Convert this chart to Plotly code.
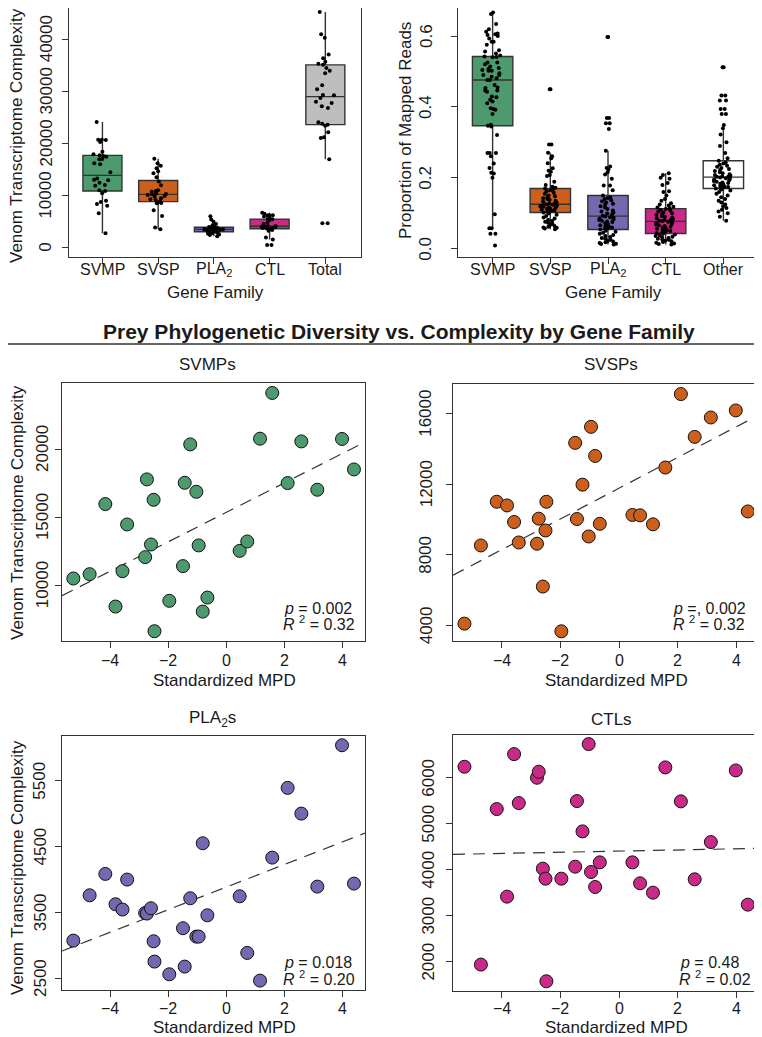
import plotly.graph_objects as go

W, H = 762, 1037
OFF = 8  # the page body adds an 8px margin, so the figure is laid out inside it
FW, FH = W - OFF, H - OFF
FONT = "Liberation Sans, Arial, Helvetica, sans-serif"

# ---- top-left: venom transcriptome complexity per gene family ----
tl_categories = ["SVMP", "SVSP", "PLA<sub>2</sub>", "CTL", "Total"]
tl_yticks = [0, 10000, 20000, 30000, 40000]
tl_svmp = [24130, 20740, 20670, 20740, 20290, 18430, 17920, 17600, 17470, 17730,
           16960, 16000, 17020, 16190, 14460, 13300, 12930, 13060, 12480, 12030,
           11900, 11010, 10880, 10430, 9020, 8380, 8060, 8770, 6590, 2750]
tl_svsp = [17090, 16190, 15740, 15230, 14660, 14270, 13500, 12700, 11970, 11010,
           10880, 10750, 10430, 10300, 10240, 10110, 9920, 9800, 9470, 9280,
           9150, 8900, 8700, 8600, 8510, 7170, 6080, 3900, 3520]
tl_pla2 = [3069, 3758, 4083, 3622, 3541, 3997, 3490, 3480, 3561, 3059,
           2750, 2557, 3257, 2674, 3130, 3713, 3130, 4549, 3454, 3743,
           2882, 2461, 4331, 5391, 5000, 3890, 6039, 3936, 2200, 3300]
tl_ctl = [6239, 1935, 5319, 3413, 6514, 5449, 6000, 6130, 4022, 3804,
          1572, 3804, 4065, 5493, 4833, 6732, 3949, 3623, 4159, 4159,
          3703, 3500, 6225, 5486, 3790, 4601, 6159, 3239, 500, 500]
tl_total = [45250, 40960, 40320, 37060, 36350, 35700, 35330, 35100, 34500, 33980,
            33470, 31170, 30400, 29310, 29250, 28740, 28030, 27780, 27140, 26820,
            24060, 23810, 23620, 23420, 22140, 21180, 21060, 16960, 4670, 4670]

# ---- top-right: proportion of mapped reads ----
tr_categories = ["SVMP", "SVSP", "PLA<sub>2</sub>", "CTL", "Other"]
tr_yticks = [0.0, 0.2, 0.4, 0.6]
tr_svmp = [0.666, 0.662, 0.634, 0.619, 0.612, 0.607, 0.605, 0.600, 0.603, 0.593,
           0.584, 0.584, 0.575, 0.560, 0.556, 0.551, 0.540, 0.542, 0.541, 0.545,
           0.525, 0.525, 0.514, 0.502, 0.504, 0.507, 0.490, 0.490, 0.502, 0.481,
           0.476, 0.476, 0.462, 0.453, 0.455, 0.443, 0.446, 0.446, 0.429, 0.427,
           0.420, 0.415, 0.410, 0.392, 0.396, 0.394, 0.380, 0.347, 0.345, 0.350,
           0.321, 0.270, 0.270, 0.270, 0.261, 0.240, 0.228, 0.214, 0.212, 0.200,
           0.097, 0.058, 0.058, 0.042, 0.042, 0.009, 0.520, 0.510, 0.495, 0.485]
tr_svsp = [0.450, 0.450, 0.294, 0.294, 0.271, 0.261, 0.255, 0.241, 0.227, 0.220,
           0.217, 0.208, 0.205, 0.189, 0.180, 0.175, 0.172, 0.170, 0.168, 0.165,
           0.162, 0.158, 0.155, 0.150, 0.148, 0.145, 0.142, 0.140, 0.138, 0.135,
           0.133, 0.130, 0.128, 0.127, 0.126, 0.124, 0.122, 0.120, 0.118, 0.116,
           0.114, 0.112, 0.110, 0.108, 0.107, 0.105, 0.102, 0.099, 0.096, 0.092,
           0.088, 0.085, 0.081, 0.078, 0.076, 0.073, 0.070, 0.067, 0.064, 0.062,
           0.060, 0.059, 0.057, 0.055, 0.104, 0.109, 0.113, 0.119, 0.121, 0.125]
tr_pla2 = [0.597, 0.597, 0.369, 0.369, 0.354, 0.354, 0.338, 0.276, 0.232, 0.228,
           0.223, 0.216, 0.209, 0.197, 0.178, 0.178, 0.165, 0.150,
           0.145, 0.143, 0.140, 0.137, 0.134, 0.130, 0.127, 0.124, 0.120, 0.116,
           0.112, 0.108, 0.105, 0.102, 0.099, 0.096, 0.093,
           0.091, 0.089, 0.087, 0.085, 0.083, 0.081, 0.079, 0.077, 0.075, 0.072,
           0.069, 0.066, 0.064, 0.062, 0.060, 0.058, 0.056,
           0.054, 0.051, 0.048, 0.045, 0.042, 0.039, 0.036, 0.033, 0.030, 0.028,
           0.025, 0.022, 0.020, 0.018, 0.016, 0.014, 0.013, 0.012]
tr_ctl = [0.213, 0.208, 0.200, 0.197, 0.185, 0.180, 0.162, 0.160, 0.150, 0.140,
          0.135, 0.128, 0.125, 0.122, 0.118, 0.116, 0.114,
          0.112, 0.110, 0.108, 0.105, 0.102, 0.100, 0.097, 0.095, 0.092, 0.090,
          0.088, 0.086, 0.084, 0.082, 0.080, 0.079, 0.078,
          0.076, 0.074, 0.072, 0.070, 0.068, 0.066, 0.064, 0.062, 0.060, 0.058,
          0.056, 0.054, 0.052, 0.050, 0.048, 0.046, 0.044,
          0.042, 0.040, 0.038, 0.036, 0.034, 0.032, 0.030, 0.028, 0.026, 0.025,
          0.023, 0.021, 0.019, 0.017, 0.015, 0.013, 0.012]
tr_other = [0.512, 0.512, 0.432, 0.432, 0.418, 0.418, 0.394, 0.394, 0.380, 0.380,
            0.349, 0.340, 0.322, 0.300, 0.290, 0.270, 0.255, 0.248,
            0.243, 0.240, 0.237, 0.234, 0.231, 0.228, 0.225, 0.222, 0.219, 0.216,
            0.213, 0.210, 0.208, 0.206, 0.204, 0.203, 0.203,
            0.201, 0.199, 0.197, 0.195, 0.193, 0.191, 0.189, 0.187, 0.185, 0.183,
            0.181, 0.179, 0.177, 0.175, 0.174, 0.173, 0.172,
            0.170, 0.167, 0.164, 0.160, 0.155, 0.150, 0.145, 0.140, 0.135, 0.130,
            0.125, 0.120, 0.115, 0.110, 0.105, 0.100, 0.090, 0.079]

# ---- scatter panels: standardized MPD vs complexity ----
mpd_ticks = [-4, -2, 0, 2, 4]
mpd = [-5.27, -4.71, -4.17, -3.82, -3.58, -3.42, -2.80, -2.74, -2.60, -2.51,
       -2.48, -1.97, -1.50, -1.44, -1.25, -1.04, -0.96, -0.82, -0.66, 0.45,
       0.71, 1.15, 1.57, 2.10, 2.57, 3.12, 3.97, 4.38]
svmp_cx = [10490, 10810, 15960, 8430, 11030, 14460, 12060, 17770, 12990, 16270,
           6620, 8850, 11400, 17520, 20340, 16860, 12920, 8060, 9090, 12520,
           13210, 20760, 24120, 17500, 20560, 17010, 20740, 18500]
svsp_cx = [4095, 8530, 11010, 10800, 9860, 8700, 8630, 10050, 6200, 9380,
           11010, 3660, 14350, 10030, 11980, 9040, 15260, 13610, 9760, 10260,
           10240, 9730, 12950, 17120, 14690, 15790, 16190, 10460]
pla2_cx = [3069, 3758, 4083, 3622, 3541, 3997, 3490, 3480, 3561, 3059,
           2750, 2557, 3257, 2674, 3713, 3130, 3130, 4549, 3454, 3743,
           2882, 2461, 4331, 5391, 5000, 3890, 6039, 3936]
ctl_cx = [6239, 1935, 5319, 3413, 6514, 5449, 6000, 6130, 4022, 3804,
          1572, 3804, 4065, 5493, 4833, 6732, 3949, 3623, 4159, 4159,
          3703, 3500, 6225, 5486, 3790, 4601, 6159, 3239]
svmp_yticks = [10000, 15000, 20000]
svsp_yticks = [4000, 8000, 12000, 16000]
pla2_yticks = [2500, 3500, 4500, 5500]
ctl_yticks = [2000, 3000, 4000, 5000, 6000]
# fitted lines as drawn (intercept at MPD = 0, slope)
svmp_fit = (15360, 1083)
svsp_fit = (11784, 873)
pla2_fit = (3884, 172)
ctl_fit = (4404, 12.6)

GREEN, ORANGE, PURPLE, MAGENTA = "#4E9A6F", "#CC5F1C", "#7469B0", "#C92A87"
BOX_FILLS_TL = [GREEN, ORANGE, PURPLE, MAGENTA, "#BEBEBE"]
BOX_FILLS_TR = [GREEN, ORANGE, PURPLE, MAGENTA, "#FFFFFF"]
INK = "#1a1a1a"


def px(x):
    return (x - OFF) / FW


def py(y):
    return 1 - (y - OFF) / FH


fig = go.Figure()

# box plots with jittered points
for i, (vals, fill) in enumerate(zip([tl_svmp, tl_svsp, tl_pla2, tl_ctl, tl_total], BOX_FILLS_TL)):
    fig.add_trace(go.Box(
        y=vals, x0=i, width=0.7, xaxis="x", yaxis="y",
        fillcolor=fill, line=dict(color="#333333", width=1.4), whiskerwidth=0,
        boxpoints="all", jitter=0.55, pointpos=0,
        marker=dict(color="black", size=4), showlegend=False, hoverinfo="y",
    ))
for i, (vals, fill) in enumerate(zip([tr_svmp, tr_svsp, tr_pla2, tr_ctl, tr_other], BOX_FILLS_TR)):
    fig.add_trace(go.Box(
        y=vals, x0=i, width=0.7, xaxis="x2", yaxis="y2",
        fillcolor=fill, line=dict(color="#333333", width=1.4), whiskerwidth=0,
        boxpoints="all", jitter=0.55, pointpos=0,
        marker=dict(color="black", size=4), showlegend=False, hoverinfo="y",
    ))

XR = [-5.66, 4.76]
scatter_sets = [
    (svmp_cx, svmp_fit, GREEN, "x3", "y3"),
    (svsp_cx, svsp_fit, ORANGE, "x4", "y4"),
    (pla2_cx, pla2_fit, PURPLE, "x5", "y5"),
    (ctl_cx, ctl_fit, MAGENTA, "x6", "y6"),
]
for ys, (icpt, slope), col, xa, ya in scatter_sets:
    fig.add_trace(go.Scatter(
        x=XR, y=[icpt + slope * XR[0], icpt + slope * XR[1]], mode="lines",
        line=dict(color="#333333", width=1.2, dash="12px,8px"),
        xaxis=xa, yaxis=ya, showlegend=False, hoverinfo="skip",
    ))
    fig.add_trace(go.Scatter(
        x=mpd, y=ys, mode="markers", xaxis=xa, yaxis=ya, showlegend=False,
        marker=dict(size=13, color=col, line=dict(color="#111111", width=1)),
    ))


def axis(domain, **kw):
    d = dict(domain=domain, showline=True, mirror=True, linecolor="#333333",
             linewidth=1.2, ticks="outside", ticklen=6, tickwidth=1.2,
             tickcolor="#333333", showgrid=False, zeroline=False,
             showticklabels=False)
    d.update(kw)
    return d


cats = list(range(5))
fig.update_layout(
    width=FW, height=FH, margin=dict(l=0, r=0, t=0, b=0),
    paper_bgcolor="white", plot_bgcolor="white",
    font=dict(family=FONT, color=INK),
    xaxis=axis([px(69), px(361)], anchor="y", range=[-0.6, 4.64], tickvals=cats),
    yaxis=axis([py(257), py(8)], anchor="x", range=[-1785, 46007], tickvals=tl_yticks),
    xaxis2=axis([px(458), px(758)], anchor="y2", range=[-0.6, 4.6], tickvals=cats),
    yaxis2=axis([py(257), py(8)], anchor="x2", range=[-0.0234, 0.679], tickvals=tr_yticks),
    xaxis3=axis([px(62), px(365)], anchor="y3", range=XR, tickvals=mpd_ticks),
    yaxis3=axis([py(641), py(383)], anchor="x3", range=[5900, 24850], tickvals=svmp_yticks),
    xaxis4=axis([px(453), px(759)], anchor="y4", range=XR, tickvals=mpd_ticks),
    yaxis4=axis([py(641), py(384)], anchor="x4", range=[3110, 17690], tickvals=svsp_yticks),
    xaxis5=axis([px(62), px(365)], anchor="y5", range=XR, tickvals=mpd_ticks),
    yaxis5=axis([py(990), py(736)], anchor="x5", range=[2318, 6180], tickvals=pla2_yticks),
    xaxis6=axis([px(453), px(759)], anchor="y6", range=XR, tickvals=mpd_ticks),
    yaxis6=axis([py(991), py(735)], anchor="x6", range=[1360, 6930], tickvals=ctl_yticks),
)


def label(text, x, y, size=17, angle=0, xanchor="center", bold=False,
          xref="paper", yref="paper"):
    fig.add_annotation(
        text=f"<b>{text}</b>" if bold else text,
        x=px(x) if xref == "paper" else x, y=py(y) if yref == "paper" else y,
        xref=xref, yref=yref, showarrow=False, textangle=angle,
        xanchor=xanchor, yanchor="middle",
        font=dict(family=FONT, size=size, color=INK),
    )


def minus(v):
    return str(v).replace("-", "\u2212")


# tick labels (R style: y labels parallel to the axis)
for v in tl_yticks:
    label(f"{v:d}", 46, v, angle=-90, yref="y")
for v in tr_yticks:
    label(f"{v:.1f}", 426, v, angle=-90, yref="y2")
for vals, xc, yr in [(svmp_yticks, 42, "y3"), (svsp_yticks, 426, "y4"),
                     (pla2_yticks, 40, "y5"), (ctl_yticks, 429, "y6")]:
    for v in vals:
        label(f"{v:d}", xc, v, angle=-90, yref=yr)
for i, c in enumerate(tl_categories):
    label(c, i, 269, size=16, xref="x")
for i, c in enumerate(tr_categories):
    label(c, i, 269, size=16, xref="x2")
for xr, yc in [("x3", 660), ("x4", 660), ("x5", 1008), ("x6", 1008)]:
    for v in mpd_ticks:
        label(minus(v), v, yc, size=16, xref=xr)

# axis titles
label("Venom Transcriptome Complexity", 17, 136, angle=-90)
label("Proportion of Mapped Reads", 405, 131, angle=-90)
label("Gene Family", 215, 292)
label("Gene Family", 613, 292)
label("Venom Transcriptome Complexity", 17, 513, angle=-90)
label("Venom Transcriptome Complexity", 17, 868, angle=-90)
for xc in (224, 616):
    label("Standardized MPD", xc, 680)
    label("Standardized MPD", xc, 1027)

# panel titles
label("SVMPs", 207, 365)
label("SVSPs", 611, 365)
label("PLA<sub>2</sub>s", 213, 719)
label("CTLs", 611, 719)

# section title and rule
label("Prey Phylogenetic Diversity vs. Complexity by Gene Family", 399, 332, size=21, bold=True)
fig.add_shape(type="line", xref="paper", yref="paper", x0=px(8), x1=1,
              y0=py(344), y1=py(344), line=dict(color="#666666", width=2))

# statistics
stats = [
    ("<i>p</i> = 0.002", 354, 608), ("<i>R</i> <sup>2</sup> = 0.32", 357, 623),
    ("<i>p</i> =, 0.002", 748, 608), ("<i>R</i> <sup>2</sup> = 0.32", 747, 623),
    ("<i>p</i> = 0.018", 354, 962), ("<i>R</i> <sup>2</sup> = 0.20", 357, 978),
    ("<i>p</i> = 0.48", 741, 962), ("<i>R</i> <sup>2</sup> = 0.02", 753, 978),
]
for txt, xr, yc in stats:
    label(txt, xr, yc, size=16, xanchor="right")

fig.write_html("out.html")
